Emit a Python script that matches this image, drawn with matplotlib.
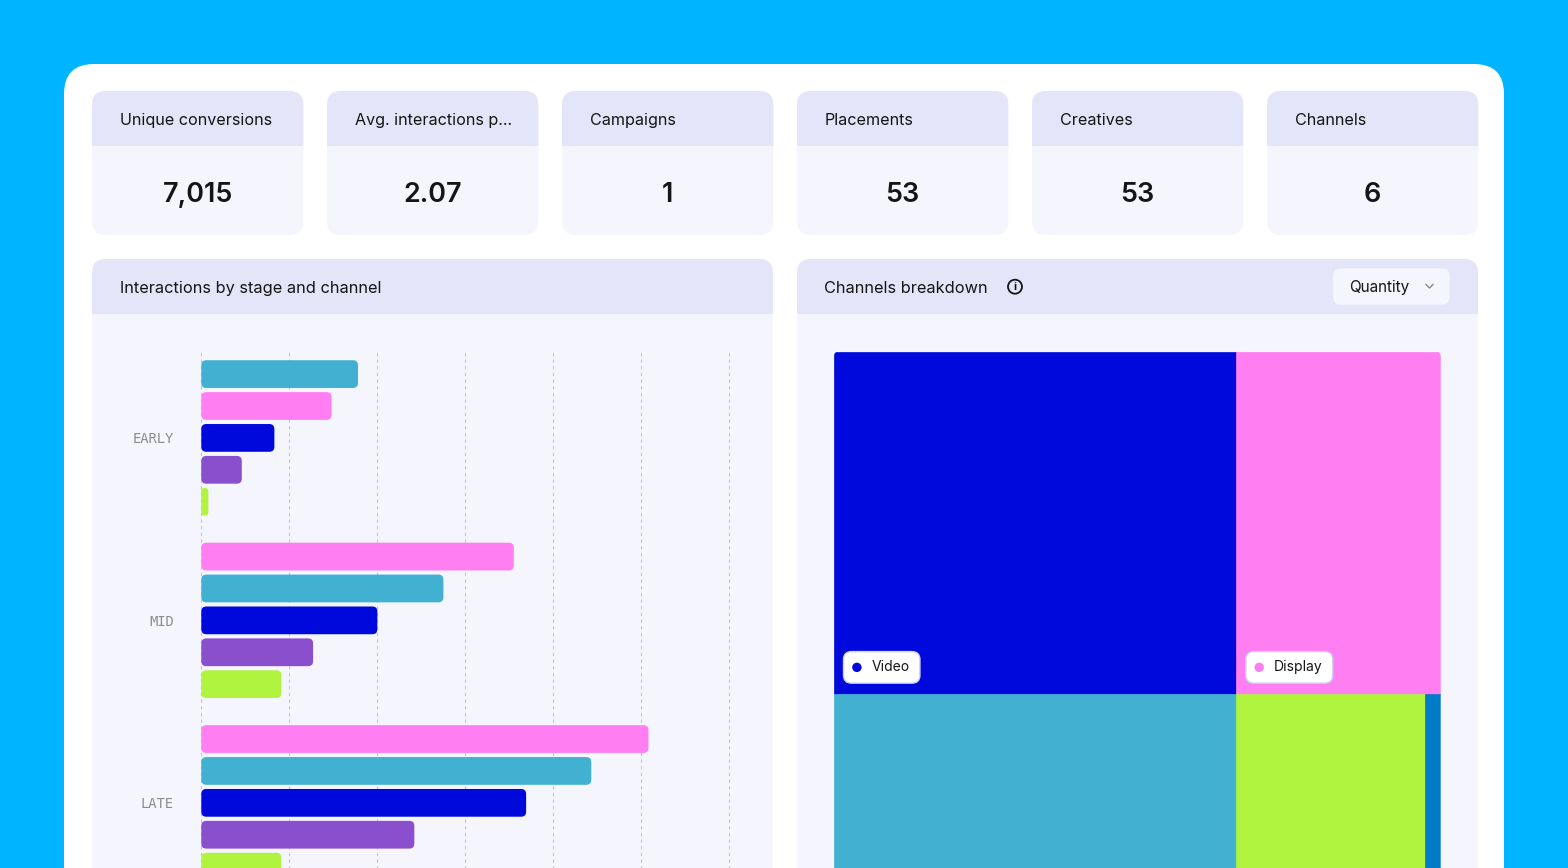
import numpy as np
import matplotlib
matplotlib.use("Agg")
import matplotlib.pyplot as plt
from matplotlib.patches import FancyBboxPatch, Rectangle, Circle

plt.rcParams.update({"font.family": ["Inter", "DejaVu Sans"]})

W, H = 1568, 868
BG, CARD, HEAD, BODY, INK = "#00B4FF", "#FFFFFF", "#E4E5F9", "#F4F5FD", "#151515"

# KPI tiles
kpi_labels = ["Unique conversions", "Avg. interactions p...", "Campaigns",
              "Placements", "Creatives", "Channels"]
kpi_values = ["7,015", "2.07", "1", "53", "53", "6"]

# interactions by stage and channel
stages = ["EARLY", "MID", "LATE"]
bar_channels = ["Display", "Social", "Video", "Native", "Audio"]
display_vals = [148, 355, 508]
social_vals = [178, 275, 443]
video_vals = [83, 200, 369]
native_vals = [46, 127, 242]
audio_vals = [8, 91, 91]

# channels breakdown (quantity)
tree_channels = ["Video", "Display", "Social", "Audio", "Search"]
tree_values = [2250, 1143, 2015, 944, 80]
tree_rows = [2, 3]  # cells per row of the treemap

colors = {"Display": "#FF7EF1", "Social": "#42B0D0", "Video": "#0009DC",
          "Native": "#894FCD", "Audio": "#B0F43F", "Search": "#007BC8"}

fig = plt.figure(figsize=(W / 100, H / 100), dpi=100)
fig.patch.set_facecolor(BG)
bg = fig.add_axes([0, 0, 1, 1])
bg.set_xlim(0, W); bg.set_ylim(H, 0); bg.axis("off")


def rrect(ax, x, y, w, h, r, fc, ec="none", lw=0, z=1):
    p = FancyBboxPatch((x, y), w, h, boxstyle=f"round,pad=0,rounding_size={r}",
                       fc=fc, ec=ec, lw=lw, zorder=z)
    ax.add_patch(p)
    return p


def card(x, y, w, h, head_h, r=14):
    rrect(bg, x, y, w, h, r, BODY)
    rrect(bg, x, y, w, head_h + r, r, HEAD)
    bg.add_patch(Rectangle((x, y + head_h), w, r, fc=BODY, ec="none", zorder=1))


rrect(bg, 64, 64, 1440, 900, 30, CARD)

# KPI row
for i, (lab, val) in enumerate(zip(kpi_labels, kpi_values)):
    x0 = 92 + i * 235
    card(x0, 91, 211.3, 144, 55)
    bg.text(x0 + 28, 125, lab, fontsize=11.6, color=INK, va="baseline")
    bg.text(x0 + 105.6, 201.7, val, fontsize=19.4, weight="semibold", color=INK,
            ha="center", va="baseline")

# panels
card(92, 259, 681, 700, 55)
card(797, 259, 681, 700, 55)
bg.text(120, 293, "Interactions by stage and channel", fontsize=11.75, color=INK, va="baseline")
bg.text(824, 293, "Channels breakdown", fontsize=11.75, color=INK, va="baseline")
bg.add_patch(Circle((1015, 286.7), 7, fc="none", ec=INK, lw=1.3, zorder=2))
bg.text(1015, 287, "i", fontsize=8, weight="bold", color=INK, ha="center", va="center")
rrect(bg, 1333, 268.3, 116.6, 36.4, 8, BODY, z=2)
bg.text(1349, 292, "Quantity", fontsize=11, color=INK, va="baseline", zorder=3)
bg.plot([1426, 1429.5, 1433], [284.5, 288, 284.5], color="#8A8A8A", lw=1, zorder=3)

# ---- bar chart ----
px_per_unit = 0.8803
x_lo, x_hi = -5, 610
slot = 31.9
group_step = 5.72
bar_h = 0.87
top_px, first_px, bottom_px = 351.6, 374.1, 1000
left_px = 201.3 + x_lo * px_per_unit
ax = fig.add_axes([left_px / W, 1 - bottom_px / H,
                   (x_hi - x_lo) * px_per_unit / W, (bottom_px - top_px) / H])
ax.patch.set_alpha(0)
ax.set_xlim(x_lo, x_hi)
y_top = -(first_px - top_px) / slot
ax.set_ylim(y_top + (bottom_px - top_px) / slot, y_top)
ax.set_xticks(np.arange(0, 601, 100))
ax.tick_params(axis="x", length=0, labelbottom=False)
ax.grid(axis="x", color="#C4BFEA", lw=0.8, ls=(0, (3, 3)))
ax.set_axisbelow(True)
for s in ax.spines.values():
    s.set_visible(False)
ax.set_yticks([g * group_step + 2 for g in range(len(stages))])
ax.set_yticklabels(stages, family="DejaVu Sans Mono", fontsize=9.9, color="#8C8C8C")
ax.tick_params(axis="y", length=0, pad=16.5)

series = np.array([display_vals, social_vals, video_vals, native_vals, audio_vals])
aspect = (1 / slot) * px_per_unit
rad = 5 / px_per_unit
for g in range(len(stages)):
    order = np.argsort(-series[:, g], kind="stable")
    for rank, k in enumerate(order):
        v = series[k, g]
        y = g * group_step + rank
        r = min(rad, v / 2)
        ax.add_patch(FancyBboxPatch((0, y - bar_h / 2), v, bar_h,
                                    boxstyle=f"round,pad=0,rounding_size={r}",
                                    mutation_aspect=aspect, fc=colors[bar_channels[k]],
                                    ec="none", zorder=3))

# ---- treemap ----
tm_x, tm_y, tm_w, tm_h = 834, 351.5, 606.7, 649
tm = fig.add_axes([tm_x / W, 1 - (tm_y + tm_h) / H, tm_w / W, tm_h / H])
tm.set_xlim(0, tm_w); tm.set_ylim(tm_h, 0); tm.axis("off")
clip = FancyBboxPatch((0, 0), tm_w, tm_h, boxstyle="round,pad=0,rounding_size=5",
                      transform=tm.transData, fc="none", ec="none")
renderer = fig.canvas.get_renderer()
vals = np.array(tree_values, dtype=float)
total = vals.sum()
start, y = 0, 0.0
for n in tree_rows:
    row_v = vals[start:start + n]
    rh = tm_h * row_v.sum() / total
    x = 0.0
    for j, v in enumerate(row_v):
        name = tree_channels[start + j]
        cw = tm_w * v / row_v.sum()
        cell = Rectangle((x, y), cw, rh, fc=colors[name], ec=colors[name], lw=0.5)
        tm.add_patch(cell)
        cell.set_clip_path(clip)
        pl, pb, ph = x + 9.5, y + rh - 10.7, 31.6
        # label pill sits at the cell's lower-left corner; skip it if off-canvas
        if cw > 80 and tm_y + pb < H:
            t = tm.text(pl + 27.7, pb - ph / 2, name, fontsize=10, color=INK,
                        va="center", zorder=6)
            tw = t.get_window_extent(renderer).width
            rrect(tm, pl, pb - ph, tw + 38.3, ph, 8, "white", ec="#CBCFF3", lw=1, z=5)
            tm.add_patch(Circle((pl + 13.4, pb - ph / 2), 4.7, fc=colors[name],
                                ec="none", zorder=6))
        x += cw
    y += rh
    start += n

fig.savefig("out.png", dpi=100, facecolor=BG)
